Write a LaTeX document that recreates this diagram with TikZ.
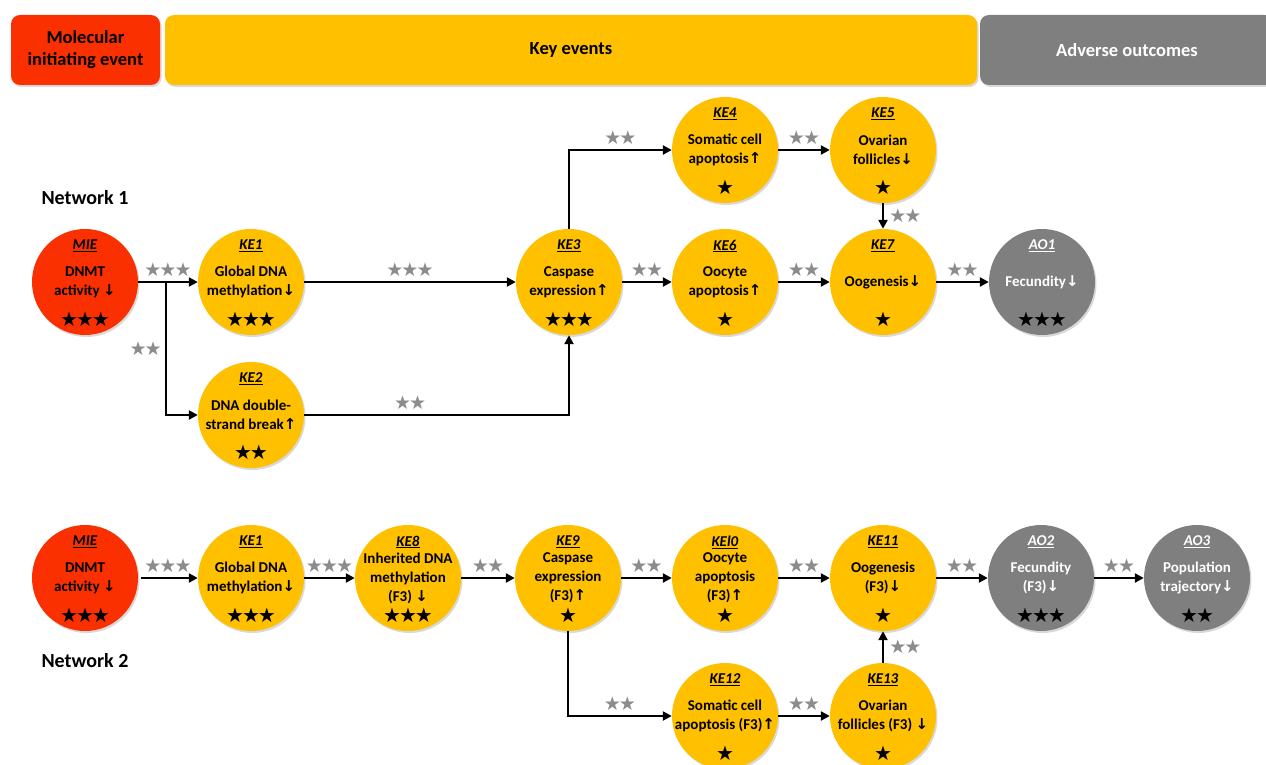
\documentclass[tikz,border=0pt]{standalone}
\usepackage{fontspec}
\setmainfont{Carlito}
\newfontfamily\sym{DejaVu Sans}
\usetikzlibrary{arrows.meta,shadows,calc}
\definecolor{mier}{HTML}{FA3000}
\definecolor{key}{HTML}{FFC000}
\definecolor{adv}{HTML}{7F7F7F}
\definecolor{stg}{HTML}{8C8C8C}
\newcommand\dn{{\sym ↓}}
\newcommand\up{{\sym ↑}}
\newcommand\sI{★}
\newcommand\sII{★\kern-2pt★}
\newcommand\sIII{★\kern-2pt★\kern-2pt★}
\newcommand\evt[8]{%
  \node[#2] (#1) at (#3,#4) {};
  \node[lbl,text=#8] (#1-l) at ($(#1)+(0,-36)$) {\underline{\textit{#5}}};
  \node[txt,text=#8] (#1-t) at (#1) {#6};
  \node[nstar] (#1-s) at ($(#1)+(0,37)$) {#7};
}
\begin{document}
\begin{tikzpicture}[x=1pt,y=-1pt,
  ev/.style={circle, minimum size=106pt, inner sep=0pt,
    drop shadow={opacity=0.3, shadow xshift=1.5pt, shadow yshift=-2pt}},
  mie/.style={ev, fill=mier},
  ke/.style={ev, fill=key},
  ao/.style={ev, fill=adv},
  txt/.style={font=\fontsize{15}{19}\selectfont\bfseries, align=center, inner sep=0pt},
  lbl/.style={font=\fontsize{15}{19}\selectfont\bfseries, inner sep=0pt},
  nstar/.style={font=\sym\fontsize{20}{20}\selectfont, inner sep=0pt, text=black},
  estar/.style={font=\sym\fontsize{19}{19}\selectfont, inner sep=0pt, text=stg},
  arr/.style={line width=2.6pt, -{Triangle[length=9pt,width=9pt]}},
  hdr/.style={rounded corners=9pt, minimum height=70pt, inner sep=0pt,
    font=\fontsize{18.5}{22}\selectfont\bfseries, align=center,
    drop shadow={opacity=0.3, shadow xshift=1.5pt, shadow yshift=-2pt}},
  net/.style={font=\fontsize{20}{24}\selectfont\bfseries, inner sep=0pt}
]
\useasboundingbox (0,0) rectangle (1266,765);
% headers
\node[hdr, fill=mier, minimum width=149pt] (h1) at (85.5,50) {Molecular\\initiating event};
\node[hdr, fill=key, minimum width=812pt] (h2) at (571,50) {Key events};
\node[hdr, fill=adv, minimum width=294pt, text=white] (h3) at (1127,50) {Adverse outcomes};
\node[net] (n1) at (85,198) {Network 1};
\node[net] (n2) at (85,661) {Network 2};
% network 1
\evt{MIE}{mie}{85}{282}{MIE}{DNMT\\activity \dn}{\sIII}{black}
\evt{KEa}{ke}{251}{282}{KE1}{Global DNA\\methylation\dn}{\sIII}{black}
\evt{KEb}{ke}{251}{415}{KE2}{DNA double-\\strand break\up}{\sII}{black}
\evt{KEc}{ke}{569}{282}{KE3}{Caspase\\expression\up}{\sIII}{black}
\evt{KEd}{ke}{725}{150}{KE4}{Somatic cell\\apoptosis\up}{\sI}{black}
\evt{KEe}{ke}{883}{150}{KE5}{Ovarian\\follicles\dn}{\sI}{black}
\evt{KEf}{ke}{725}{282}{KE6}{Oocyte\\apoptosis\up}{\sI}{black}
\evt{KEg}{ke}{883}{282}{KE7}{Oogenesis\dn}{\sI}{black}
\evt{AOa}{ao}{1042}{282}{AO1}{Fecundity\dn}{\sIII}{white}
\coordinate (br) at (166,282);
\draw[arr] (MIE) -- node[estar, above=4pt]{\sIII} (KEa);
\draw[arr] (br) |- node[estar, pos=0.25, left=3pt]{\sII} (KEb);
\draw[arr] (KEa) -- node[estar, above=4pt]{\sIII} (KEc);
\draw[arr] (KEb.east) -| node[estar, pos=0.2, above=4pt]{\sII} (KEc.south);
\draw[arr] (KEc.north) |- node[estar, pos=0.75, above=4pt]{\sII} (KEd.west);
\draw[arr] (KEd) -- node[estar, above=4pt]{\sII} (KEe);
\draw[arr] (KEe) -- node[estar, right=5pt]{\sII} (KEg);
\draw[arr] (KEc) -- node[estar, above=4pt]{\sII} (KEf);
\draw[arr] (KEf) -- node[estar, above=4pt]{\sII} (KEg);
\draw[arr] (KEg) -- node[estar, above=4pt]{\sII} (AOa);
% network 2
\evt{MIEb}{mie}{85}{578}{MIE}{DNMT\\activity \dn}{\sIII}{black}
\evt{KEh}{ke}{251}{578}{KE1}{Global DNA\\methylation\dn}{\sIII}{black}
\evt{KEi}{ke}{408}{578}{KE8}{Inherited DNA\\methylation\\(F3) \dn}{\sIII}{black}
\evt{KEj}{ke}{568}{578}{KE9}{Caspase\\expression\\(F3)\up}{\sI}{black}
\evt{KEk}{ke}{725}{578}{KEl0}{Oocyte\\apoptosis\\(F3)\up}{\sI}{black}
\evt{KEm}{ke}{883}{578}{KE11}{Oogenesis\\(F3)\dn}{\sI}{black}
\evt{AOb}{ao}{1041}{578}{AO2}{Fecundity\\(F3)\dn}{\sIII}{white}
\evt{AOc}{ao}{1197}{578}{AO3}{Population\\trajectory\dn}{\sII}{white}
\evt{KEn}{ke}{725}{716}{KE12}{Somatic cell\\apoptosis (F3)\up}{\sI}{black}
\evt{KEo}{ke}{883}{716}{KE13}{Ovarian\\follicles (F3) \dn}{\sI}{black}
\draw[arr, shorten <=3pt] (MIEb) -- node[estar, above=4pt]{\sIII} (KEh);
\draw[arr] (KEh) -- node[estar, above=4pt]{\sIII} (KEi);
\draw[arr] (KEi) -- node[estar, above=4pt]{\sII} (KEj);
\draw[arr] (KEj) -- node[estar, above=4pt]{\sII} (KEk);
\draw[arr] (KEk) -- node[estar, above=4pt]{\sII} (KEm);
\draw[arr] (KEm) -- node[estar, above=4pt]{\sII} (AOb);
\draw[arr] (AOb) -- node[estar, above=4pt]{\sII} (AOc);
\draw[arr] (KEj.south) |- node[estar, pos=0.75, above=4pt]{\sII} (KEn.west);
\draw[arr] (KEn) -- node[estar, above=4pt]{\sII} (KEo);
\draw[arr] (KEo) -- node[estar, right=5pt]{\sII} (KEm);
\end{tikzpicture}
\end{document}
